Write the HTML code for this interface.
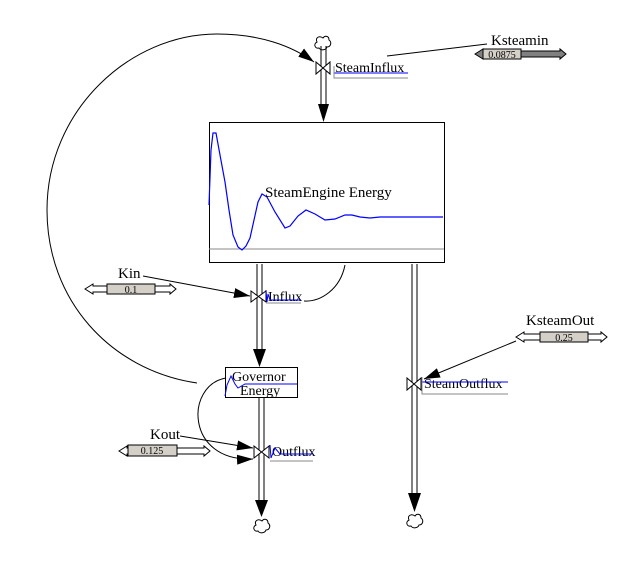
<!DOCTYPE html>
<html><head><meta charset="utf-8"><style>
html,body{margin:0;padding:0;background:#fff;}
svg text{font-family:"Liberation Serif",serif;}
</style></head><body>
<svg width="639" height="581" viewBox="0 0 639 581" xmlns="http://www.w3.org/2000/svg">
<defs>
<marker id="ahb" markerWidth="16" markerHeight="10" refX="16" refY="5" orient="auto" markerUnits="userSpaceOnUse" viewBox="0 0 16 10"><path d="M0,0 L16,5 L0,10 Z" fill="#000"/></marker>
</defs>

<!-- big loop arc -->
<path d="M197,383 C110,370 47,300 47,210 C47,110 130,34 217,34 C260,34 292,46 314,62" fill="none" stroke="#000" stroke-width="1" marker-end="url(#ahb)"/>

<!-- SteamInflux pipe -->
<path d="M323,38 c-4,-3 -8,0 -6,4 c-4,2 -2,7 2,6 c2,3 7,2 8,-1 c4,0 5,-5 2,-7 c0,-4 -4,-5 -6,-2z" fill="#fff" stroke="#000"/>
<line x1="321" y1="46" x2="321" y2="106" stroke="#000"/>
<line x1="326" y1="46" x2="326" y2="106" stroke="#000"/>
<path d="M318,104 L329,104 L323.5,122 Z" fill="#000"/>
<path d="M316,62 L330,74 L330,62 L316,74 Z" fill="#fff" stroke="#000"/>
<text x="335" y="72" font-size="14">SteamInflux</text>
<line x1="334" y1="73" x2="408" y2="73" stroke="#00f"/>
<path d="M334,66 L334,78 L408,78" fill="none" stroke="#888"/>

<!-- Ksteamin -->
<text x="491" y="45" font-size="15">Ksteamin</text>
<line x1="487" y1="44" x2="387" y2="56" stroke="#000"/>
<path d="M475,54 L483,49 L483,51 L560,51 L560,49 L566,54 L560,59 L560,57 L483,57 L483,59 Z" fill="#808080" stroke="#000"/>
<rect x="483" y="49" width="38" height="10" fill="#d4d0c8" stroke="#000"/>
<text x="502" y="58" font-size="10" text-anchor="middle" font-family="Liberation Sans,sans-serif">0.0875</text>

<!-- Steam engine box -->
<rect x="209.5" y="122.5" width="235" height="140" fill="#fff" stroke="#000"/>
<line x1="209" y1="249" x2="444" y2="249" stroke="#888"/>
<polyline fill="none" stroke="#00f" stroke-width="1.2" points="209,205 211,150 213,133 216,133 220,155 225,182 229,210 233,235 238,247 242,250 246,246 250,238 254,220 258,202 262,194 267,197 275,212 285,228 290,226 298,216 306,210 315,214 325,220 335,219 345,215 352,215 360,217 370,218 380,217 390,217 410,217 443,217"/>
<text x="265" y="197" font-size="15">SteamEngine Energy</text>

<!-- Influx pipe -->
<line x1="257" y1="264" x2="257" y2="352" stroke="#000"/>
<line x1="262" y1="264" x2="262" y2="352" stroke="#000"/>
<path d="M253,349 L266,349 L259.5,367 Z" fill="#000"/>
<path d="M251,291 L266,302 L266,291 L251,302 Z" fill="#fff" stroke="#000"/>
<text x="268" y="301" font-size="14">Influx</text>
<path d="M266,290 L267,302 L268,294 L270,300 L301,300" fill="none" stroke="#00f"/>
<path d="M266,303 L301,303" fill="none" stroke="#888"/>
<path d="M345,265 C340,290 320,302 304,301" fill="none" stroke="#000"/>

<!-- Kin -->
<text x="118" y="278" font-size="15">Kin</text>
<line x1="143" y1="276" x2="250" y2="296" stroke="#000" marker-end="url(#ahb)"/>
<path d="M85,289 L93,284 L93,286 L170,286 L170,284 L176,289 L170,294 L170,292 L93,292 L93,294 Z" fill="#fff" stroke="#000"/>
<rect x="107" y="284" width="48" height="10" fill="#d4d0c8" stroke="#000"/>
<text x="131" y="293" font-size="10" text-anchor="middle" font-family="Liberation Sans,sans-serif">0.1</text>

<!-- Governor box -->
<rect x="225.5" y="367.5" width="72" height="30" fill="#fff" stroke="#000"/>
<text x="232" y="381" font-size="14">Governor</text>
<text x="240" y="395" font-size="14">Energy</text>
<path d="M225,396 L227,385 L231,376 L235,384 L238,388 L245,384 L297,384" fill="none" stroke="#00f"/>

<!-- Outflux pipe -->
<line x1="259" y1="398" x2="259" y2="503" stroke="#000"/>
<line x1="264" y1="398" x2="264" y2="503" stroke="#000"/>
<path d="M255,500 L268,500 L261.5,517 Z" fill="#000"/>
<path d="M262,521 c-4,-3 -8,0 -6,4 c-4,2 -2,7 2,6 c2,3 7,2 8,-1 c4,0 5,-5 2,-7 c0,-4 -4,-5 -6,-2z" fill="#fff" stroke="#000"/>
<path d="M254,446 L269,458 L269,446 L254,458 Z" fill="#fff" stroke="#000"/>
<text x="272" y="456" font-size="14">Outflux</text>
<path d="M270,445 L271,458 L275,448 L280,454 L313,454" fill="none" stroke="#00f"/>
<path d="M270,461 L313,461" fill="none" stroke="#888"/>
<path d="M226,378 C185,385 185,462 253,459" fill="none" stroke="#000" marker-end="url(#ahb)"/>

<!-- Kout -->
<text x="150" y="439" font-size="15">Kout</text>
<line x1="180" y1="436" x2="253" y2="448" stroke="#000" marker-end="url(#ahb)"/>
<path d="M119,451 L127,446 L127,448 L204,448 L204,446 L210,451 L204,456 L204,454 L127,454 L127,456 Z" fill="#fff" stroke="#000"/>
<rect x="128" y="445" width="49" height="11" fill="#d4d0c8" stroke="#000"/>
<text x="152" y="454" font-size="10" text-anchor="middle" font-family="Liberation Sans,sans-serif">0.125</text>

<!-- SteamOutflux pipe -->
<line x1="412" y1="264" x2="412" y2="495" stroke="#000"/>
<line x1="417" y1="264" x2="417" y2="495" stroke="#000"/>
<path d="M408,493 L421,493 L414.5,512 Z" fill="#000"/>
<path d="M415,516 c-4,-3 -8,0 -6,4 c-4,2 -2,7 2,6 c2,3 7,2 8,-1 c4,0 5,-5 2,-7 c0,-4 -4,-5 -6,-2z" fill="#fff" stroke="#000"/>
<path d="M407,378 L421,390 L421,378 L407,390 Z" fill="#fff" stroke="#000"/>
<text x="424" y="388" font-size="14">SteamOutflux</text>
<line x1="422" y1="382" x2="508" y2="382" stroke="#00f"/>
<path d="M422,377 L422,394 L508,394" fill="none" stroke="#888"/>

<!-- KsteamOut -->
<text x="526" y="325" font-size="15">KsteamOut</text>
<line x1="516" y1="341" x2="424" y2="379" stroke="#000" marker-end="url(#ahb)"/>
<path d="M516,337 L524,332 L524,334 L601,334 L601,332 L607,337 L601,342 L601,340 L524,340 L524,342 Z" fill="#fff" stroke="#000"/>
<rect x="540" y="332" width="48" height="10" fill="#d4d0c8" stroke="#000"/>
<text x="564" y="341" font-size="10" text-anchor="middle" font-family="Liberation Sans,sans-serif">0.25</text>
</svg>
</body></html>
